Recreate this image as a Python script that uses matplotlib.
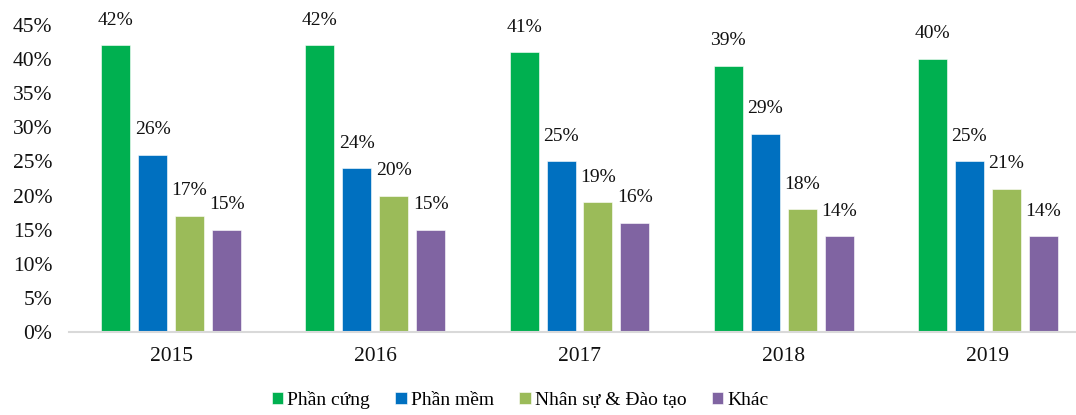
import numpy as np
from matplotlib import pyplot as plt

# data
years = ['2015', '2016', '2017', '2018', '2019']
series = ['Phần cứng', 'Phần mềm', 'Nhân sự & Đào tạo', 'Khác']
hardware = [42, 42, 41, 39, 40]
software = [26, 24, 25, 29, 25]
people = [17, 20, 19, 18, 21]
other = [15, 15, 16, 14, 14]
colors = ['#00B050', '#0070C0', '#9BBB59', '#8064A2']

plt.rcParams['font.family'] = ['Liberation Serif', 'DejaVu Serif']
plt.rcParams['font.size'] = 14

fig = plt.figure(figsize=(10.76, 4.15), dpi=100)
ax = fig.add_axes([69/1076, 83/415, 1021/1076, 307/415])

x = np.arange(len(years))
width = 0.142
step = 0.181
for i, (vals, name) in enumerate(zip([hardware, software, people, other], series)):
    pos = x + (i - 1.5)*step
    bars = ax.bar(pos, np.array(vals)/100, width, color=colors[i], label=name,
                  edgecolor='white', linewidth=0.4)
    ax.bar_label(bars, labels=[f'{v}%' for v in vals], padding=12, color='#111111')

ax.set_xlim(-0.5, len(years) - 0.5)
ax.set_ylim(0, 0.45)
ax.set_yticks(np.arange(0, 0.46, 0.05))
ax.set_yticklabels([f'{int(round(t*100))}%' for t in np.arange(0, 0.46, 0.05)])
ax.set_xticks(x)
ax.set_xticklabels(years)
ax.tick_params(length=0, colors='#111111', labelsize=15.5)
ax.tick_params(axis='x', pad=11)
ax.tick_params(axis='y', pad=12)
for s in ['top', 'right', 'left']:
    ax.spines[s].set_visible(False)
ax.spines['bottom'].set_color('#D9D9D9')
ax.spines['bottom'].set_linewidth(1.5)

fig.legend(loc='upper center', bbox_to_anchor=(520/1076, 26/415), ncol=4,
           frameon=False, handlelength=0.6, handleheight=0.6, handletextpad=0.2,
           columnspacing=1.3, borderaxespad=0, borderpad=0.1)

plt.savefig('out.png', dpi=100)
